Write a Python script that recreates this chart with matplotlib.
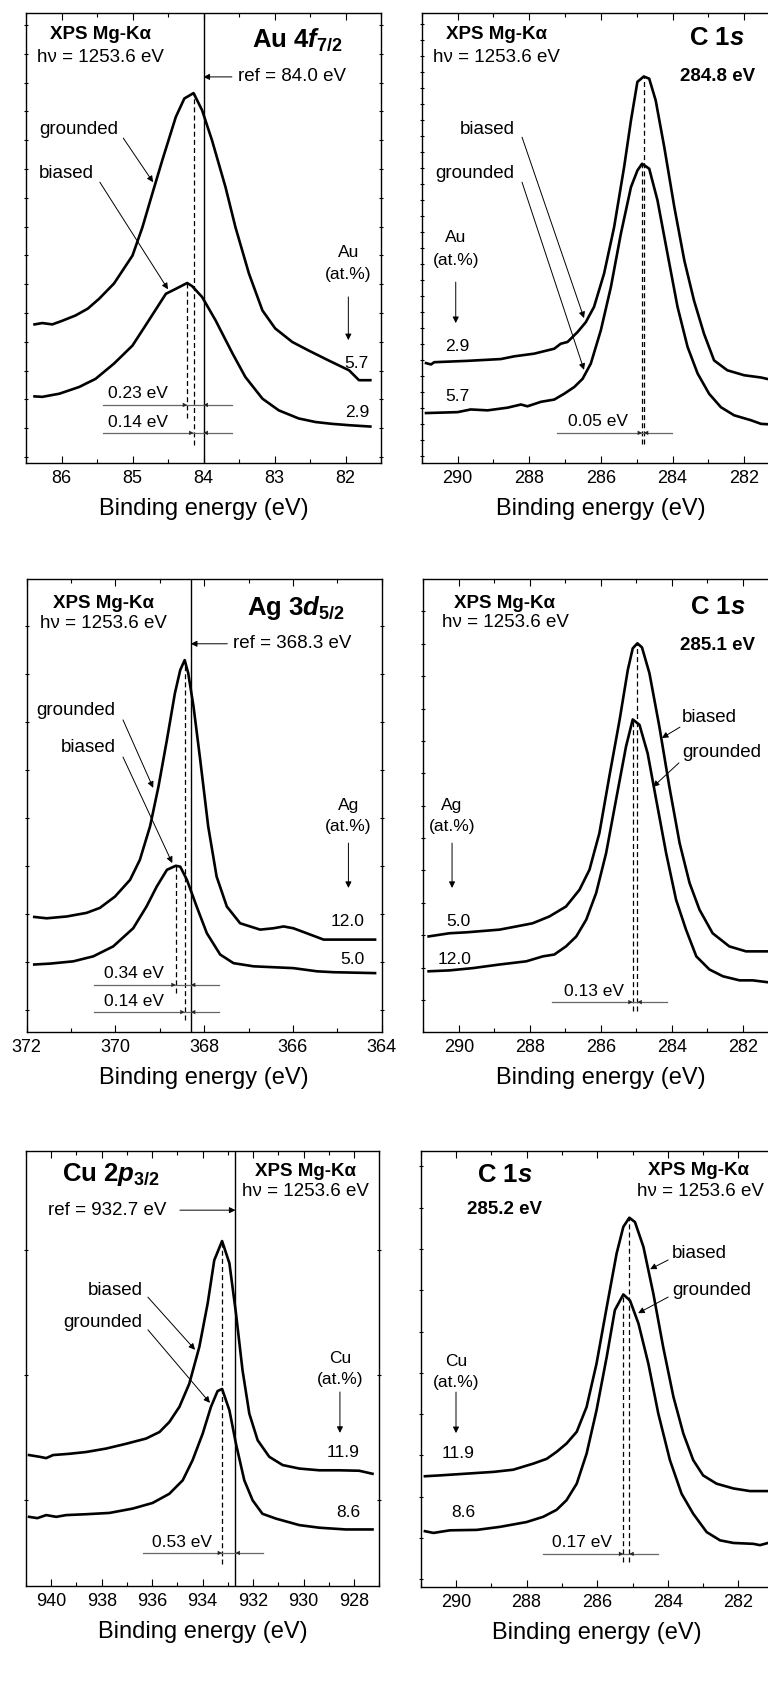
import matplotlib
matplotlib.use("Agg")
import matplotlib.pyplot as plt
from matplotlib.ticker import MultipleLocator, NullLocator

plt.rcParams.update({
    "font.family": ["Liberation Sans", "DejaVu Sans"],
    "mathtext.fontset": "custom",
    "mathtext.rm": "Liberation Sans",
    "mathtext.it": "Liberation Sans:italic",
    "mathtext.bf": "Liberation Sans:bold",
    "mathtext.bfit": "Liberation Sans:italic:bold",
})

# ---------------- spectra (binding energy in eV, intensity in arb. units) ----------------
# Au 4f7/2
au_grounded_e = [86.38, 86.27, 86.13, 85.99, 85.80, 85.63, 85.47, 85.26, 85.00, 84.86, 84.72,
                 84.58, 84.39, 84.27, 84.14, 84.02, 83.88, 83.69, 83.55, 83.36, 83.17, 82.99,
                 82.75, 82.52, 82.24, 81.95, 81.81, 81.65]
au_grounded_i = [30.8, 31.1, 30.8, 31.6, 32.8, 34.3, 36.5, 39.9, 46.1, 52.4, 59.9,
                 67.3, 76.9, 81.0, 82.2, 78.4, 71.7, 61.3, 52.4, 42.1, 33.9, 29.9,
                 26.9, 25.0, 22.8, 20.6, 18.4, 18.4]
au_biased_e = [86.38, 86.27, 86.03, 85.75, 85.52, 85.26, 85.00, 84.77, 84.53, 84.39, 84.23,
               84.16, 84.02, 83.83, 83.59, 83.41, 83.17, 82.94, 82.66, 82.42, 82.19, 81.95, 81.65]
au_biased_i = [14.8, 14.7, 15.4, 16.9, 18.7, 22.1, 26.1, 31.7, 37.6, 38.7, 40.0,
               39.3, 36.9, 31.7, 24.3, 19.1, 14.3, 11.7, 9.9, 9.1, 8.7, 8.4, 8.1]
au_ref_be = 84.0
au_shift_grounded = 0.14
au_shift_biased = 0.23
au_content = {"grounded": "5.7", "biased": "2.9"}

# C 1s, Au-containing films
cau_biased_e = [290.88, 290.74, 290.65, 289.72, 288.79, 288.42, 287.86, 287.30, 287.12, 286.93,
                286.65, 286.42, 286.19, 285.91, 285.63, 285.35, 285.16, 284.98, 284.80, 284.65,
                284.47, 284.23, 283.95, 283.67, 283.40, 283.12, 282.84, 282.47, 282.00, 281.53, 281.31]
cau_biased_i = [22.2, 21.9, 22.4, 22.7, 23.1, 23.7, 24.3, 25.4, 26.5, 26.9,
                29.1, 31.3, 34.7, 42.1, 52.4, 65.8, 76.1, 84.7, 85.9, 85.4,
                80.6, 70.2, 56.9, 45.0, 36.1, 28.7, 22.8, 20.6, 19.5, 19.0, 18.6]
cau_grounded_e = [290.88, 290.00, 289.63, 289.16, 288.60, 288.23, 288.05, 287.67, 287.30, 287.02,
                  286.74, 286.51, 286.28, 286.00, 285.72, 285.44, 285.16, 284.98, 284.85, 284.65,
                  284.42, 284.14, 283.86, 283.58, 283.30, 282.98, 282.65, 282.28, 281.81, 281.53, 281.31]
cau_grounded_i = [11.1, 11.3, 11.9, 11.7, 12.3, 13.0, 12.6, 13.6, 14.1, 15.4,
                  16.9, 18.7, 22.1, 29.5, 39.1, 51.0, 61.3, 65.0, 66.5, 65.4,
                  58.4, 46.5, 34.7, 25.8, 19.9, 15.4, 12.4, 10.6, 9.5, 8.7, 8.6]
cau_be = 284.8
cau_shift = 0.05

# Ag 3d5/2
ag_grounded_e = [371.83, 371.55, 371.10, 370.65, 370.35, 370.01, 369.67, 369.45, 369.22, 369.03,
                 368.84, 368.66, 368.54, 368.44, 368.36, 368.24, 368.09, 367.91, 367.72, 367.49,
                 367.19, 366.74, 366.44, 366.21, 365.99, 365.69, 365.31, 364.71, 364.15]
ag_grounded_i = [25.4, 25.1, 25.5, 26.3, 27.4, 29.9, 33.6, 38.0, 45.4, 54.2,
                 64.5, 74.8, 79.9, 82.1, 79.2, 71.8, 60.1, 45.4, 34.3, 27.7,
                 24.0, 22.6, 22.9, 23.3, 22.9, 21.8, 20.4, 20.4, 20.4]
ag_biased_e = [371.83, 371.47, 370.95, 370.50, 370.05, 369.60, 369.30, 369.07, 368.84, 368.64,
               368.54, 368.39, 368.17, 367.94, 367.64, 367.34, 366.89, 366.44, 365.99, 365.46,
               365.09, 364.15]
ag_biased_i = [14.9, 15.1, 15.6, 16.7, 18.9, 22.9, 27.7, 32.1, 35.8, 36.7,
               36.5, 33.6, 27.7, 21.8, 17.1, 15.2, 14.5, 14.3, 14.1, 13.4,
               13.2, 13.0]
ag_ref_be = 368.3
ag_shift_grounded = 0.14
ag_shift_biased = 0.34
ag_content = {"grounded": "12.0", "biased": "5.0"}

# C 1s, Ag-containing films
cag_biased_e = [290.85, 290.26, 289.79, 288.85, 288.38, 287.92, 287.45, 286.98, 286.60, 286.32,
                286.04, 285.76, 285.47, 285.24, 285.10, 284.97, 284.84, 284.63, 284.35, 284.07,
                283.78, 283.50, 283.22, 282.85, 282.38, 281.91, 281.31]
cag_biased_i = [21.1, 21.8, 22.0, 22.6, 23.3, 24.0, 25.5, 27.7, 31.4, 35.8,
                43.9, 56.4, 68.9, 79.9, 84.7, 85.8, 84.9, 79.2, 67.4, 54.2,
                41.7, 32.9, 27.0, 21.8, 18.9, 17.8, 17.8]
cag_grounded_e = [290.85, 290.26, 289.61, 288.85, 288.10, 287.63, 287.31, 286.98, 286.69, 286.41,
                  286.13, 285.85, 285.57, 285.29, 285.10, 284.91, 284.68, 284.44, 284.16, 283.88,
                  283.60, 283.31, 282.94, 282.56, 282.09, 281.72, 281.31]
cag_grounded_i = [13.4, 13.6, 14.1, 14.9, 15.6, 16.7, 17.1, 18.9, 21.1, 24.8,
                  30.7, 39.5, 51.3, 63.0, 69.0, 67.8, 61.5, 51.3, 39.5, 29.2,
                  22.6, 16.7, 13.8, 12.3, 11.4, 11.4, 11.0]
cag_be = 285.1
cag_shift = 0.13

# Cu 2p3/2
cu_biased_e = [940.88, 940.46, 940.20, 939.93, 939.27, 938.62, 937.82, 937.03, 936.24, 935.71,
               935.32, 934.92, 934.53, 934.13, 933.80, 933.54, 933.23, 932.94, 932.68, 932.42,
               932.15, 931.82, 931.36, 930.83, 930.17, 929.38, 928.59, 927.80, 927.27]
cu_biased_i = [30.1, 29.7, 29.4, 30.1, 30.4, 30.8, 31.6, 32.7, 33.9, 35.4,
               37.7, 41.2, 46.5, 55.0, 65.0, 74.9, 79.3, 74.2, 62.7, 49.6,
               39.6, 33.5, 29.7, 27.8, 27.0, 26.6, 26.6, 26.5, 25.8]
cu_grounded_e = [940.88, 940.55, 940.20, 939.80, 939.41, 938.62, 937.69, 936.77, 935.98, 935.32,
                 934.79, 934.40, 934.00, 933.67, 933.41, 933.23, 932.94, 932.68, 932.35, 932.02,
                 931.63, 931.10, 930.17, 929.38, 928.33, 927.27]
cu_grounded_i = [15.9, 15.6, 16.3, 15.9, 16.3, 16.5, 16.8, 17.8, 19.1, 21.2,
                 24.3, 28.9, 35.0, 41.2, 44.8, 45.3, 40.4, 32.7, 24.3, 19.7,
                 16.6, 15.5, 14.0, 13.4, 13.0, 13.0]
cu_ref_be = 932.7
cu_shift = 0.53
cu_content = {"biased": "11.9", "grounded": "8.6"}

# C 1s, Cu-containing films
ccu_biased_e = [290.88, 290.45, 289.70, 288.94, 288.38, 287.81, 287.43, 287.15, 286.87, 286.58,
                286.30, 286.02, 285.73, 285.45, 285.26, 285.09, 284.93, 284.69, 284.41, 284.13,
                283.84, 283.56, 283.28, 283.00, 282.62, 282.14, 281.67, 281.16]
ccu_biased_i = [25.4, 25.6, 26.0, 26.4, 26.9, 28.3, 29.4, 31.0, 32.9, 35.6,
                41.3, 51.2, 64.2, 76.5, 82.6, 84.7, 83.7, 78.0, 67.3, 55.0,
                43.6, 35.2, 29.1, 25.6, 23.7, 22.6, 22.0, 22.0]
ccu_grounded_e = [290.88, 290.64, 290.17, 289.41, 288.75, 288.00, 287.53, 287.15, 286.87, 286.58,
                  286.30, 286.02, 285.73, 285.50, 285.26, 285.07, 284.83, 284.55, 284.27, 283.94,
                  283.61, 283.28, 282.90, 282.52, 282.14, 281.58, 281.39, 281.16]
ccu_grounded_i = [12.8, 12.4, 13.0, 13.1, 13.8, 14.9, 16.1, 17.7, 19.9, 23.7,
                  30.6, 40.5, 52.8, 63.5, 67.1, 65.7, 60.4, 51.2, 39.8, 29.1,
                  21.4, 16.8, 12.6, 10.7, 10.1, 9.9, 9.6, 10.1]
ccu_be = 285.2
ccu_grounded_peak = 285.26
ccu_shift = 0.17

# ---------------- figure ----------------
W, H = 768, 1698
fig = plt.figure(figsize=(W / 100, H / 100), dpi=100)

CURVE = dict(color="black", lw=1.9, solid_joinstyle="round")
DASH = dict(color="black", lw=0.9, ls=(0, (4, 2.5)))
POINTER = dict(arrowstyle="-|>", color="black", lw=0.7, mutation_scale=9,
               shrinkA=0, shrinkB=0)
BAR_HEAD = dict(arrowstyle="-|>", color="0.15", lw=0.0, mutation_scale=8,
                shrinkA=0, shrinkB=0)
TXT = 13.5
SMALL = 12.5
TITLE = 18.5


def rect(left, top, width, height):
    return [left / W, 1 - (top + height) / H, width / W, height / H]


def panel(box, xlim, major, minor, ystep, yoff):
    ax = fig.add_axes(rect(*box))
    ax.set_xlim(*xlim)
    ax.set_ylim(0, 100)
    ax.xaxis.set_major_locator(MultipleLocator(major))
    ax.xaxis.set_minor_locator(MultipleLocator(minor))
    ax.yaxis.set_major_locator(MultipleLocator(ystep, offset=yoff))
    ax.yaxis.set_minor_locator(NullLocator())
    ax.tick_params(axis="x", which="both", direction="in", top=True, bottom=True,
                   labelsize=13, pad=5)
    ax.tick_params(axis="x", which="major", length=5, width=0.8)
    ax.tick_params(axis="x", which="minor", length=3, width=0.8)
    ax.tick_params(axis="y", which="major", direction="inout", left=True, right=True,
                   labelleft=False, length=3, width=0.8)
    for s in ax.spines.values():
        s.set_linewidth(1.0)
    ax.set_xlabel("Binding energy (eV)", fontsize=17, labelpad=8)
    return ax


def dashed(ax, e, top, bottom):
    ax.plot([e, e], [bottom, top], **DASH)


def shift_bar(ax, e_hi, e_lo, e_left, e_right, y, label, label_xy):
    ax.plot([e_left, e_right], [y, y], color="0.4", lw=0.9)
    ax.annotate("", xy=(e_hi, y), xytext=(e_left, y), arrowprops=BAR_HEAD)
    ax.annotate("", xy=(e_lo, y), xytext=(e_right, y), arrowprops=BAR_HEAD)
    ax.text(*label_xy, label, ha="center", va="center", fontsize=SMALL)


def pointer(ax, start, tip):
    ax.annotate("", xy=tip, xytext=start, arrowprops=POINTER)


def source(ax, x, y1, y2, ha="center"):
    ax.text(x, y1, "XPS Mg-K\u03b1", ha=ha, va="center", fontsize=TXT, fontweight="bold")
    ax.text(x, y2, "h\u03bd = 1253.6 eV", ha=ha, va="center", fontsize=TXT)


def content(ax, x, element, y_el, y_unit, y_from, y_to):
    ax.text(x, y_el, element, ha="center", va="center", fontsize=SMALL)
    ax.text(x, y_unit, "(at.%)", ha="center", va="center", fontsize=SMALL)
    pointer(ax, (x, y_from), (x, y_to))


# ---- Au 4f7/2 ----
ax = panel((26, 13, 355, 450), (86.5, 81.5), 1, 0.5, 6.4, 1.33)
ax.plot(au_grounded_e, au_grounded_i, **CURVE)
ax.plot(au_biased_e, au_biased_i, **CURVE)
ax.axvline(au_ref_be, color="black", lw=1.0)
dashed(ax, au_ref_be + au_shift_biased, max(au_biased_i), 9.9)
dashed(ax, au_ref_be + au_shift_grounded, max(au_grounded_i), 3.9)
shift_bar(ax, au_ref_be + au_shift_biased, au_ref_be, 85.42, 83.60, 12.9,
          f"{au_shift_biased:.2f} eV", (84.92, 15.4))
shift_bar(ax, au_ref_be + au_shift_grounded, au_ref_be, 85.42, 83.60, 6.7,
          f"{au_shift_grounded:.2f} eV", (84.92, 9.0))
source(ax, 85.45, 95.3, 90.2)
ax.text(83.32, 94.0, r"$\mathbf{Au\ 4}\mathbfit{f}_{\mathbf{7/2}}$", ha="left", va="center",
        fontsize=TITLE)
ax.text(83.51, 85.8, f"ref = {au_ref_be:.1f} eV", ha="left", va="center", fontsize=TXT)
pointer(ax, (83.60, 85.8), (au_ref_be, 85.8))
ax.text(85.75, 74.0, "grounded", ha="center", va="center", fontsize=TXT)
pointer(ax, (85.13, 72.2), (84.71, 62.4))
ax.text(85.93, 64.4, "biased", ha="center", va="center", fontsize=TXT)
pointer(ax, (85.46, 62.4), (84.50, 38.6))
content(ax, 81.96, "Au", 46.7, 41.8, 36.9, 27.3)
ax.text(81.84, 22.2, au_content["grounded"], ha="center", va="center", fontsize=SMALL)
ax.text(81.84, 11.3, au_content["biased"], ha="center", va="center", fontsize=SMALL)

# ---- C 1s (Au) ----
ax = panel((421.7, 13, 358.3, 450), (291, 281), 2, 1, 3.56, 1.5)
ax.plot(cau_biased_e, cau_biased_i, **CURVE)
ax.plot(cau_grounded_e, cau_grounded_i, **CURVE)
dashed(ax, cau_be, max(cau_biased_i), 4.3)
dashed(ax, cau_be + cau_shift, max(cau_grounded_i), 4.3)
shift_bar(ax, cau_be + cau_shift, cau_be, 287.22, 284.01, 6.7,
          f"{cau_shift:.2f} eV", (286.07, 9.2))
source(ax, 288.92, 95.3, 90.2)
ax.text(282.76, 94.4, r"$\mathbf{C\ 1}\mathbfit{s}$", ha="center", va="center",
        fontsize=TITLE)
ax.text(282.74, 85.8, f"{cau_be:.1f} eV", ha="center", va="center", fontsize=TXT,
        fontweight="bold")
ax.text(289.18, 74.2, "biased", ha="center", va="center", fontsize=TXT)
pointer(ax, (288.20, 72.4), (286.47, 32.2))
ax.text(289.53, 64.4, "grounded", ha="center", va="center", fontsize=TXT)
pointer(ax, (288.20, 62.4), (286.47, 20.7))
content(ax, 290.05, "Au", 50.0, 45.1, 40.2, 31.1)
ax.text(290.01, 25.8, au_content["biased"], ha="center", va="center", fontsize=SMALL)
ax.text(290.01, 14.7, au_content["grounded"], ha="center", va="center", fontsize=SMALL)

# ---- Ag 3d5/2 ----
ax = panel((26.7, 579, 355, 453), (372, 364), 2, 1, 10.6, 4.86)
ax.plot(ag_grounded_e, ag_grounded_i, **CURVE)
ax.plot(ag_biased_e, ag_biased_i, **CURVE)
ax.axvline(ag_ref_be, color="black", lw=1.0)
dashed(ax, ag_ref_be + ag_shift_biased, max(ag_biased_i), 8.6)
dashed(ax, ag_ref_be + ag_shift_grounded, max(ag_grounded_i), 2.6)
shift_bar(ax, ag_ref_be + ag_shift_biased, ag_ref_be, 370.48, 367.66, 10.4,
          f"{ag_shift_biased:.2f} eV", (369.58, 13.0))
shift_bar(ax, ag_ref_be + ag_shift_grounded, ag_ref_be, 370.48, 367.66, 4.4,
          f"{ag_shift_grounded:.2f} eV", (369.58, 6.7))
source(ax, 370.28, 94.7, 90.1)
ax.text(367.03, 93.6, r"$\mathbf{Ag\ 3}\mathbfit{d}_{\mathbf{5/2}}$", ha="left", va="center",
        fontsize=TITLE)
ax.text(367.35, 85.7, f"ref = {ag_ref_be:.1f} eV", ha="left", va="center", fontsize=TXT)
pointer(ax, (367.48, 85.7), (ag_ref_be, 85.7))
ax.text(370.89, 70.9, "grounded", ha="center", va="center", fontsize=TXT)
pointer(ax, (369.83, 68.9), (369.15, 53.9))
ax.text(370.61, 62.7, "biased", ha="center", va="center", fontsize=TXT)
pointer(ax, (369.83, 60.7), (368.72, 37.3))
content(ax, 364.75, "Ag", 50.1, 45.3, 41.7, 31.8)
ax.text(364.76, 24.5, ag_content["grounded"], ha="center", va="center", fontsize=SMALL)
ax.text(364.65, 15.9, ag_content["biased"], ha="center", va="center", fontsize=SMALL)

# ---- C 1s (Ag) ----
ax = panel((423.3, 579, 355, 453), (291, 281), 2, 1, 7.15, 7.06)
ax.plot(cag_biased_e, cag_biased_i, **CURVE)
ax.plot(cag_grounded_e, cag_grounded_i, **CURVE)
dashed(ax, cag_be - cag_shift, max(cag_biased_i), 4.6)
dashed(ax, cag_be, max(cag_grounded_i), 4.6)
shift_bar(ax, cag_be, cag_be - cag_shift, 287.37, 284.13, 6.6,
          f"{cag_shift:.2f} eV", (286.18, 9.0))
source(ax, 288.70, 94.7, 90.3)
ax.text(282.71, 93.8, r"$\mathbf{C\ 1}\mathbfit{s}$", ha="center", va="center",
        fontsize=TITLE)
ax.text(282.71, 85.4, f"{cag_be:.1f} eV", ha="center", va="center", fontsize=TXT,
        fontweight="bold")
ax.text(283.71, 69.5, "biased", ha="left", va="center", fontsize=TXT)
pointer(ax, (283.77, 67.3), (284.28, 64.9))
ax.text(283.71, 61.6, "grounded", ha="left", va="center", fontsize=TXT)
pointer(ax, (283.80, 59.4), (284.53, 54.1))
content(ax, 290.19, "Ag", 50.1, 45.3, 41.7, 31.8)
ax.text(290.02, 24.5, ag_content["biased"], ha="center", va="center", fontsize=SMALL)
ax.text(290.11, 16.1, ag_content["grounded"], ha="center", va="center", fontsize=SMALL)

# ---- Cu 2p3/2 ----
ax = panel((26, 1151, 353.3, 435), (941, 927), 2, 1, 28.7, 19.8)
ax.plot(cu_biased_e, cu_biased_i, **CURVE)
ax.plot(cu_grounded_e, cu_grounded_i, **CURVE)
ax.axvline(cu_ref_be, color="black", lw=1.0)
dashed(ax, cu_ref_be + cu_shift, max(cu_biased_i), 5.1)
shift_bar(ax, cu_ref_be + cu_shift, cu_ref_be, 936.36, 931.61, 7.6,
          f"{cu_shift:.2f} eV", (934.82, 10.1))
ax.text(939.57, 94.5, r"$\mathbf{Cu\ 2}\mathbfit{p}_{\mathbf{3/2}}$", ha="left", va="center",
        fontsize=TITLE)
ax.text(940.13, 86.4, f"ref = {cu_ref_be:.1f} eV", ha="left", va="center", fontsize=TXT)
pointer(ax, (934.90, 86.4), (cu_ref_be, 86.4))
source(ax, 929.93, 95.2, 90.6)
ax.text(937.47, 68.0, "biased", ha="center", va="center", fontsize=TXT)
pointer(ax, (936.17, 66.4), (934.30, 54.3))
ax.text(937.97, 60.5, "grounded", ha="center", va="center", fontsize=TXT)
pointer(ax, (936.17, 58.9), (933.71, 42.1))
content(ax, 928.56, "Cu", 52.2, 47.4, 44.6, 35.2)
ax.text(928.44, 30.6, cu_content["biased"], ha="center", va="center", fontsize=SMALL)
ax.text(928.24, 16.8, cu_content["grounded"], ha="center", va="center", fontsize=SMALL)

# ---- C 1s (Cu) ----
ax = panel((420.7, 1151, 353, 436), (291, 281), 2, 1, 9.47, 1.77)
ax.plot(ccu_biased_e, ccu_biased_i, **CURVE)
ax.plot(ccu_grounded_e, ccu_grounded_i, **CURVE)
dashed(ax, ccu_grounded_peak - ccu_shift, max(ccu_biased_i), 5.7)
dashed(ax, ccu_grounded_peak, max(ccu_grounded_i), 5.7)
shift_bar(ax, ccu_grounded_peak, ccu_grounded_peak - ccu_shift, 287.54, 284.28, 7.6,
          f"{ccu_shift:.2f} eV", (286.44, 10.3))
ax.text(288.63, 94.5, r"$\mathbf{C\ 1}\mathbfit{s}$", ha="center", va="center",
        fontsize=TITLE)
ax.text(288.63, 86.5, f"{ccu_be:.1f} eV", ha="center", va="center", fontsize=TXT,
        fontweight="bold")
ax.text(283.13, 95.6, "XPS Mg-K\u03b1", ha="center", va="center", fontsize=TXT,
        fontweight="bold")
ax.text(284.87, 90.6, "h\u03bd = 1253.6 eV", ha="left", va="center", fontsize=TXT)
ax.text(283.88, 76.6, "biased", ha="left", va="center", fontsize=TXT)
pointer(ax, (283.99, 75.0), (284.50, 72.9))
ax.text(283.88, 68.1, "grounded", ha="left", va="center", fontsize=TXT)
pointer(ax, (283.99, 66.5), (284.84, 62.8))
content(ax, 290.0, "Cu", 51.8, 47.0, 44.7, 35.3)
ax.text(289.94, 30.7, cu_content["biased"], ha="center", va="center", fontsize=SMALL)
ax.text(289.80, 17.0, cu_content["grounded"], ha="center", va="center", fontsize=SMALL)

fig.savefig("out.png", dpi=100)
